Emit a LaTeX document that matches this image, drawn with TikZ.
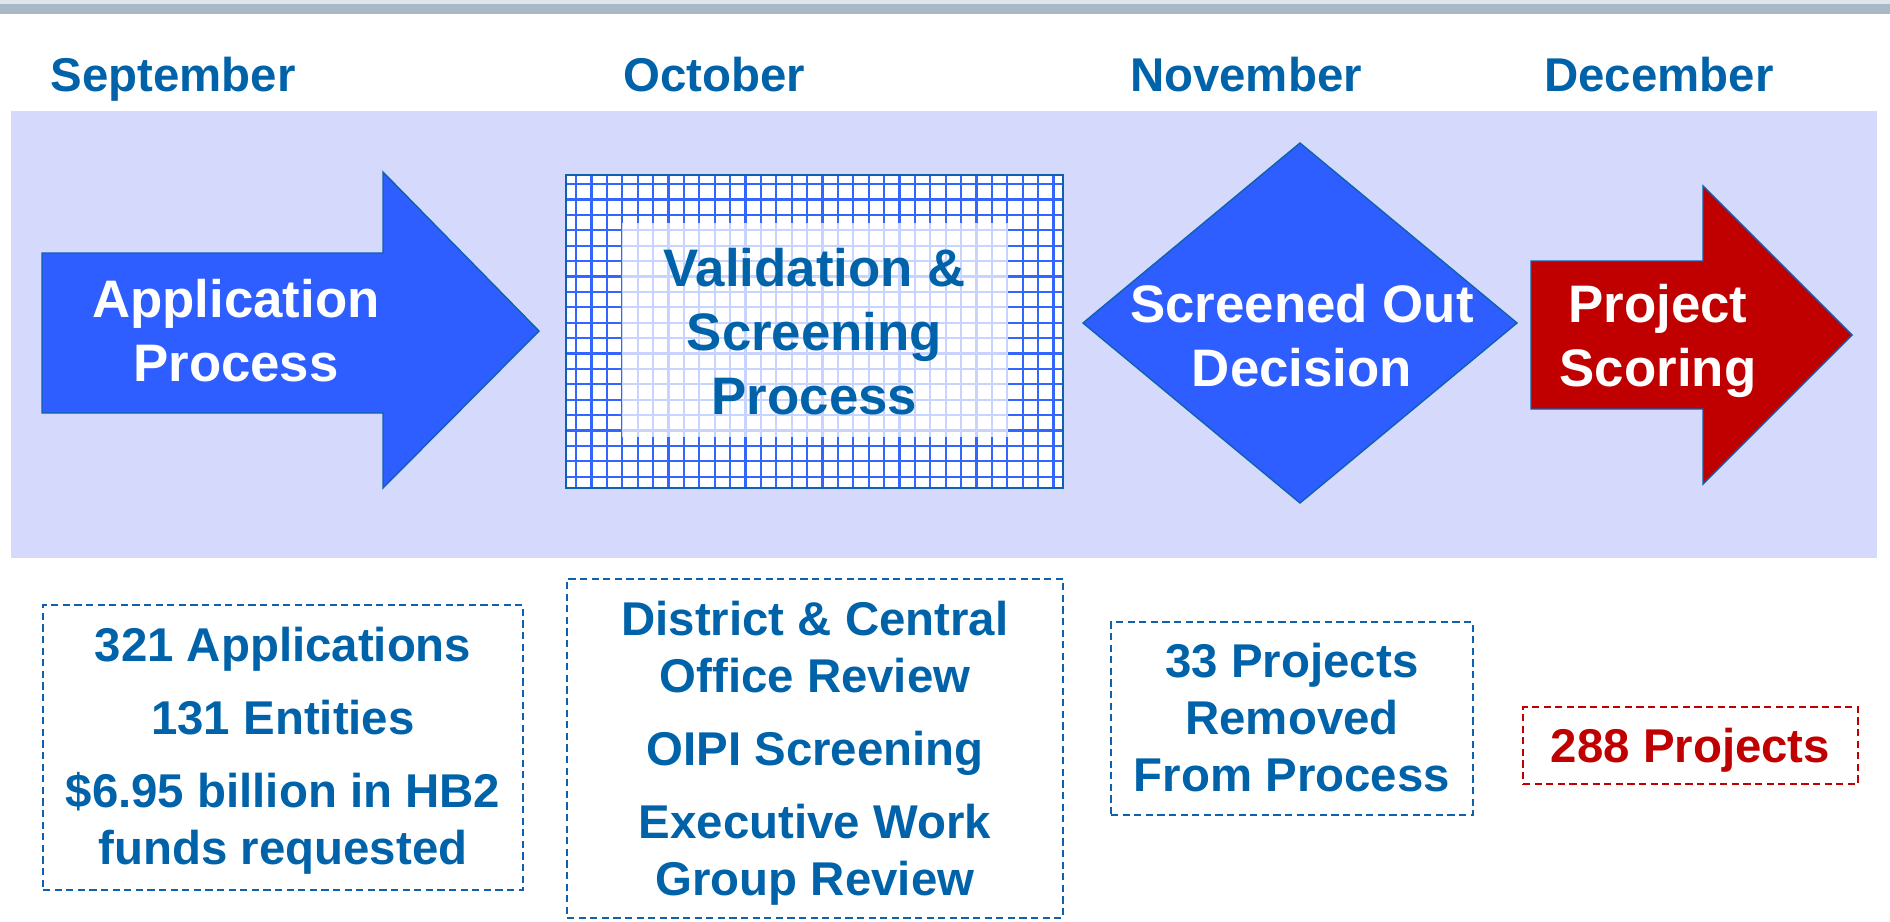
\documentclass[tikz,border=0pt]{standalone}
\usepackage{fontspec}
\setmainfont{Liberation Sans}
\definecolor{tblue}{RGB}{0,99,170}
\definecolor{shapeblue}{RGB}{46,94,255}
\definecolor{edgeblue}{RGB}{16,96,176}
\definecolor{dred}{RGB}{192,0,0}
\definecolor{band}{RGB}{213,218,252}
\definecolor{barcol}{RGB}{168,184,198}
\definecolor{topline}{RGB}{222,230,236}
\definecolor{gridcol}{RGB}{51,102,255}
\tikzset{
  month/.style={font=\fontsize{23.7pt}{28pt}\selectfont\bfseries, text=tblue, inner sep=0pt, anchor=base},
  bigtext/.style={font=\fontsize{26.4pt}{32pt}\selectfont\bfseries, align=center, inner sep=0pt},
  smalltext/.style={font=\fontsize{23.7pt}{28.5pt}\selectfont\bfseries, align=center, inner sep=0pt, text=tblue},
  shapeedge/.style={draw=edgeblue, line width=0.7pt, line join=miter},
  dbox/.style={draw=edgeblue, line width=1pt, dash pattern=on 3.6pt off 2.2pt, inner sep=0pt, outer sep=0pt},
  gridline/.style={draw=gridcol, line width=1.1pt},
}
\begin{document}
\begin{tikzpicture}[x=0.5pt,y=-0.5pt]
\useasboundingbox (0,0) rectangle (1890,921);
\fill[white] (0,0) rectangle (1890,921);
\fill[topline] (0,0) rectangle (1890,4);
\fill[barcol] (0,4) rectangle (1890,14);
\fill[band] (11,111) rectangle (1877,558);

% month labels
\node[month] (sep) at (173,91) {September};
\node[month] (oct) at (714,91) {October};
\node[month] (nov) at (1246,91) {November};
\node[month] (dec) at (1659,91) {December};

% application arrow
\filldraw[shapeedge, fill=shapeblue] (42,253) -- (383,253) -- (383,172) -- (539,331) -- (383,488) -- (383,413) -- (42,413) -- cycle;
\node[bigtext, text=white] (app) at (236,331) {Application\\Process};

% validation box with grid
\fill[white] (566,175) rectangle (1063,488);
\foreach \i in {0,...,31} \draw[gridline] ({576+15.4*\i},175) -- ({576+15.4*\i},488);
\foreach \j in {0,...,19} \draw[gridline] (566,{184+15.4*\j}) -- (1063,{184+15.4*\j});
\fill[white, opacity=0.72] (622,223) rectangle (1008,437);
\node[draw=edgeblue, line width=1.1pt, minimum width=248.5pt, minimum height=156.5pt, inner sep=0pt, outer sep=0pt,
      bigtext, text=tblue] (val) at (814.5,331.5) {Validation \&\\Screening\\Process};

% screened out diamond
\filldraw[shapeedge, fill=shapeblue] (1300,143) -- (1517,323) -- (1300,503) -- (1083,323) -- cycle;
\node[bigtext, text=white] (scr) at (1302,336) {Screened Out\\Decision};

% project scoring arrow
\filldraw[shapeedge, fill=dred] (1531,261) -- (1703,261) -- (1703,186) -- (1852,335) -- (1703,484) -- (1703,409) -- (1531,409) -- cycle;
\node[bigtext, text=white] (ps) at (1658,341) {Project\\Scoring};

% bottom boxes
\node[dbox, minimum width=240pt, minimum height=142.5pt] (b1) at (283,747.5) {};
\node[smalltext] (t1) at (283,751.2) {321 Applications\\[8pt]131 Entities\\[8pt]\$6.95 billion in HB2\\funds requested};

\node[dbox, minimum width=248pt, minimum height=169.5pt] (b2) at (815,748.5) {};
\node[smalltext] (t2) at (815,753) {District \& Central\\Office Review\\[8pt]OIPI Screening\\[8pt]Executive Work\\Group Review};

\node[dbox, minimum width=181pt, minimum height=96.5pt] (b3) at (1292,718.5) {};
\node[smalltext] (t3) at (1292,718) {33 Projects\\Removed\\From Process};

\node[dbox, draw=dred, minimum width=167.5pt, minimum height=38.5pt] (b4) at (1690.5,745.5) {};
\node[smalltext, text=dred] (t4) at (1690.5,750) {288 Projects};
\end{tikzpicture}
\end{document}
